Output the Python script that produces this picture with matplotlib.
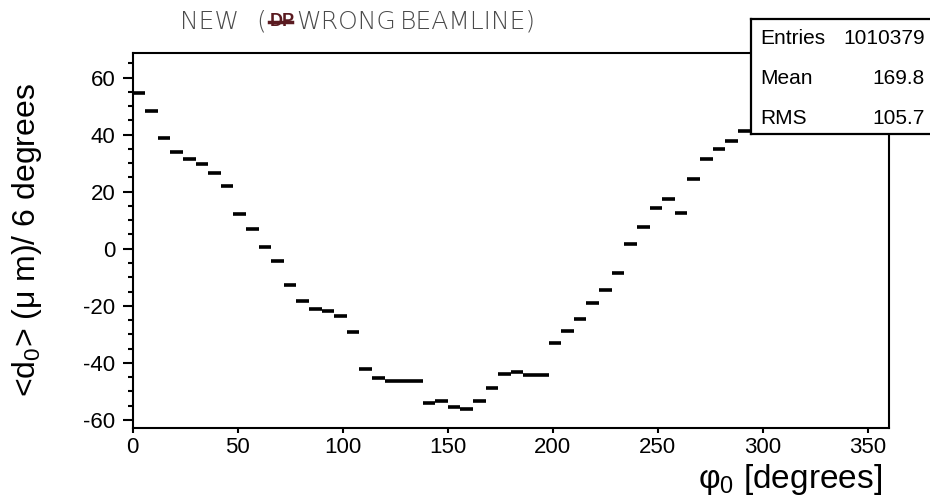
import numpy as np
import matplotlib
matplotlib.use("Agg")
import matplotlib.pyplot as plt
from matplotlib.ticker import MultipleLocator

plt.rcParams['font.family'] = ['Liberation Sans', 'DejaVu Sans']
plt.rcParams['mathtext.fontset'] = 'custom'
plt.rcParams['mathtext.rm'] = 'Liberation Sans'
plt.rcParams['mathtext.it'] = 'Liberation Sans:italic'
plt.rcParams['axes.unicode_minus'] = False

# <d0> per 6-degree bin of phi0 (bins past 294 deg sit under the stats box)
bin_width = 6
d0_mean = [54.5, 48.1, 38.7, 33.9, 31.5, 29.7, 26.7, 21.9, 12.2, 6.8,
           0.5, -4.2, -12.7, -18.4, -21.2, -21.8, -23.6, -29.1, -42.3, -45.2,
           -46.2, -46.2, -46.2, -54.2, -53.5, -55.5, -56.2, -53.4, -48.7, -43.9,
           -43.3, -44.4, -44.2, -32.9, -28.7, -24.6, -19.0, -14.5, -8.6, 1.8,
           7.8, 14.4, 17.4, 12.5, 24.4, 31.4, 35.1, 37.7, 41.3]

stat_names = ['Entries', 'Mean', 'RMS']
stat_values = ['1010379', '169.8', '105.7']

x_ticks = [0, 50, 100, 150, 200, 250, 300, 350]
y_ticks = [-60, -40, -20, 0, 20, 40, 60]

fig = plt.figure(figsize=(9.3, 4.97), dpi=100)
ax = fig.add_axes([0.1425, 0.1394, 0.8135, 0.7546])

lo = np.arange(len(d0_mean)) * bin_width
ax.hlines(d0_mean, lo, lo + bin_width, colors='black', lw=2.6)

ax.set_xlim(0, 360)
ax.set_ylim(-62.7, 68.7)
ax.set_xticks(x_ticks)
ax.set_yticks(y_ticks)
ax.yaxis.set_minor_locator(MultipleLocator(5))
ax.tick_params(axis='y', which='major', direction='out', length=7.2, width=1.5,
               labelsize=16, pad=5)
ax.tick_params(axis='y', which='minor', direction='out', length=3.5, width=1.5)
ax.tick_params(axis='x', which='major', direction='out', length=3.6, width=1.5,
               labelsize=16, pad=3)
for s in ax.spines.values():
    s.set_linewidth(1.5)

fig.text(0.029, 0.517, r'<d$_\mathrm{0}$> (μ m)/ 6 degrees', rotation=90,
         ha='center', va='center', fontsize=23)
fig.text(0.948, 0.035, r'φ$_\mathrm{0}$ [degrees]', ha='right', va='center',
         fontsize=24)

# stats box
box = fig.add_axes([0.8072, 0.7294, 0.25, 0.2318])
box.set_xticks([])
box.set_yticks([])
box.set_facecolor('white')
for s in box.spines.values():
    s.set_linewidth(1.6)
for i, (n, v) in enumerate(zip(stat_names, stat_values)):
    yy = 1 - (38 + 40 * i) / 497
    fig.text(760 / 930, yy, n, ha='left', va='center', fontsize=15)
    fig.text(925 / 930, yy, v, ha='right', va='center', fontsize=15)

# handwritten note at the top
note_y = 1 - 22 / 497
note = dict(fontsize=18, color='#4a4a4a', family=['DejaVu Sans'],
            weight='light', va='center', ha='left')
fig.text(180 / 930, note_y, 'NEW', **note)
fig.text(256 / 930, note_y, '(', **note)
fig.text(270 / 930, note_y, 'DP', fontsize=13, color='#5a1a20', weight='bold',
         va='center', ha='left')
fig.add_artist(plt.Line2D([269 / 930, 292 / 930], [note_y, note_y],
                          color='#5a1a20', lw=2.5))
fig.text(296 / 930, note_y, 'WRONG', **note)
fig.text(400 / 930, note_y, 'BEAMLINE)', **note)

fig.savefig('out.png', dpi=100, facecolor='white')
